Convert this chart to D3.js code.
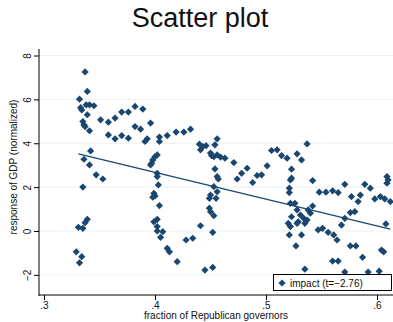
<!DOCTYPE html>
<html>
<head>
<meta charset="utf-8">
<script src="https://cdn.jsdelivr.net/npm/d3@7"></script>
<style>
  body { margin: 0; background: #fff; }
  svg { display: block; font-family: "Liberation Sans", Arial, sans-serif; }
</style>
</head>
<body>
<svg id="chart" width="393" height="322"></svg>
<script>
// fraction of Republican governors
const repShare = [
  .337, .339, .332, .333, .334, .338, .341, .345, .339, .335, .336, .337, .341, .351, .358, .364,
  .370, .376, .382, .389, .358, .364, .370, .376, .382, .387, .396, .391, .393, .404, .404, .411,
  .342, .336, .341, .396, .398, .400, .402, .347, .353, .335, .339, .337, .331, .335, .329, .334,
  .332, .397, .402, .402, .403, .399, .400, .398, .404, .402, .399, .402, .402, .407, .405, .411,
  .413, .419, .426, .432, .440, .443, .446, .441, .456, .454, .450, .451, .453, .456, .459, .463,
  .471, .454, .456, .457, .474, .478, .483, .453, .456, .450, .449, .455, .449, .450, .453, .441,
  .452, .428, .434, .420, .445, .452, .488, .492, .496, .501, .505, .510, .514, .519, .528, .532,
  .537, .523, .522, .523, .521, .521, .522, .526, .542, .542, .548, .554, .560, .565, .571, .577,
  .583, .585, .589, .594, .598, .603, .607, .612, .609, .609, .610, .528, .523, .531, .534, .537,
  .540, .538, .520, .522, .528, .529, .535, .521, .532, .527, .547, .551, .556, .561, .564, .568,
  .571, .576, .580, .576, .581, .587, .560, .565, .604, .606, .608, .535, .571, .592, .602
];
// response of GDP (normalized)
const gdpResp = [
  7.25, 6.36, 6.01, 5.62, 5.52, 5.75, 5.75, 5.71, 5.30, 4.99, 4.84, 4.76, 4.57, 5.07, 4.96, 5.15,
  5.42, 5.42, 5.68, 5.56, 4.38, 4.20, 4.35, 4.23, 4.76, 4.64, 4.92, 4.08, 4.20, 4.28, 4.08, 4.35,
  3.65, 3.27, 3.01, 3.01, 3.24, 3.39, 3.47, 2.56, 2.37, 2.00, 0.53, 0.38, 0.17, 0.12, -0.95, -1.17,
  -1.45, 3.09, 2.63, 2.48, 2.10, 1.72, 1.60, 1.54, 1.16, 0.53, 0.42, 0.20, 0.00, -0.03, -0.29, -0.79,
  -0.95, 4.51, 4.51, 4.64, 3.96, 3.85, 3.89, 3.70, 4.20, 3.93, 3.55, 3.44, 3.39, 3.47, 3.37, 3.32,
  3.12, 2.83, 2.48, 2.37, 2.37, 2.63, 2.86, 2.02, 1.79, 1.64, 1.49, 1.49, 1.04, 0.88, 0.70, 0.24,
  -0.06, -0.41, -0.33, -1.40, -1.78, -1.66, 2.21, 2.53, 2.56, 2.97, 3.67, 3.70, 3.44, 3.32, 3.52, 3.24,
  3.97, 2.82, 2.33, 2.41, 1.95, 1.75, 1.26, 1.26, 2.30, 1.14, 1.77, 1.77, 1.83, 1.75, 2.13, 1.57,
  1.34, 1.64, 2.13, 1.95, 1.46, 1.57, 1.46, 1.34, 2.48, 2.18, 2.33, 0.96, 0.65, 0.73, 0.58, 0.50,
  0.81, 0.96, 0.35, 0.20, 0.35, 0.42, 0.35, -0.18, -0.18, -0.68, 0.05, 0.12, -0.06, -0.18, -0.41, 0.27,
  0.58, 0.84, 0.88, -0.68, -0.68, -1.20, -1.37, -1.37, -0.87, -0.95, 0.32, -1.74, -1.87, -1.87, -1.83
];
// fitted line end points
const fitX = [0.331, 0.612];
const fitY = [3.52, 0.09];

const xTicks = [0.3, 0.4, 0.5, 0.6];
const yTicks = [-2, 0, 2, 4, 6, 8];
const legendLabel = 'impact (t=\u22122.76)';

const navy = '#1a476f';
const svg = d3.select('#chart');

const x = d3.scaleLinear().domain([0.3, 0.6]).range([44, 377]);
const y = d3.scaleLinear().domain([0, 8]).range([231, 55.5]);

const plotLeft = 39, plotRight = 393, plotTop = 49, plotBottom = 295;

// title
svg.append('text')
  .attr('x', 200).attr('y', 27)
  .attr('text-anchor', 'middle')
  .attr('font-size', 27)
  .attr('fill', '#111')
  .text('Scatter plot');

// gridlines
svg.append('g')
  .selectAll('line')
  .data(yTicks)
  .join('line')
  .attr('x1', plotLeft).attr('x2', plotRight)
  .attr('y1', d => y(d)).attr('y2', d => y(d))
  .attr('stroke', '#eaf2f3')
  .attr('stroke-width', 1);

// points
const diamond = d3.symbol(d3.symbolSquare, 26);
svg.append('g')
  .selectAll('path')
  .data(repShare.map((v, i) => [v, gdpResp[i]]))
  .join('path')
  .attr('d', diamond)
  .attr('transform', d => `translate(${x(d[0])},${y(d[1])}) rotate(45)`)
  .attr('fill', navy);

// fit line
const line = d3.line()
  .x(d => x(d[0]))
  .y(d => y(d[1]));
svg.append('path')
  .datum(fitX.map((v, i) => [v, fitY[i]]))
  .attr('fill', 'none')
  .attr('stroke', navy)
  .attr('stroke-width', 1.3)
  .attr('d', line);

// axes
const axisY = d3.axisLeft(y).tickValues(yTicks).tickSize(5)
  .tickFormat(d => d < 0 ? '\u2212' + Math.abs(d) : d);
const gy = svg.append('g')
  .attr('transform', `translate(${plotLeft},0)`)
  .call(axisY);
gy.select('.domain').remove();
gy.selectAll('.tick text')
  .attr('transform', 'rotate(-90)')
  .attr('x', 0).attr('y', -8)
  .attr('dy', 0)
  .attr('text-anchor', 'middle')
  .attr('font-size', 10)
  .attr('font-family', '"Liberation Sans", Arial, sans-serif')
  .attr('fill', '#111');

const axisX = d3.axisBottom(x).tickValues(xTicks).tickSize(5)
  .tickFormat(d => d3.format('.1f')(d).replace(/^0/, ''));
const gx = svg.append('g')
  .attr('transform', `translate(0,${plotBottom})`)
  .call(axisX);
gx.select('.domain').remove();
gx.selectAll('.tick text')
  .attr('y', 7)
  .attr('font-size', 10)
  .attr('font-family', '"Liberation Sans", Arial, sans-serif')
  .attr('fill', '#111');

svg.append('line')
  .attr('x1', plotLeft).attr('x2', plotLeft)
  .attr('y1', plotTop).attr('y2', plotBottom + 1)
  .attr('stroke', '#000');
svg.append('line')
  .attr('x1', plotLeft).attr('x2', plotRight)
  .attr('y1', plotBottom).attr('y2', plotBottom)
  .attr('stroke', '#000');

// axis titles
svg.append('text')
  .attr('transform', 'translate(17,167) rotate(-90)')
  .attr('text-anchor', 'middle')
  .attr('font-size', 10)
  .attr('fill', '#111')
  .text('response of GDP (normalized)');
svg.append('text')
  .attr('x', 216).attr('y', 319)
  .attr('text-anchor', 'middle')
  .attr('font-size', 10)
  .attr('fill', '#111')
  .text('fraction of Republican governors');

// legend
const lg = svg.append('g');
lg.append('rect')
  .attr('x', 273.5).attr('y', 274.5)
  .attr('width', 118).attr('height', 16)
  .attr('fill', '#fff')
  .attr('stroke', '#000');
lg.append('path')
  .attr('d', diamond)
  .attr('transform', 'translate(282,283) rotate(45)')
  .attr('fill', navy);
lg.append('text')
  .attr('x', 290).attr('y', 286.5)
  .attr('font-size', 10)
  .attr('fill', '#111')
  .text(legendLabel);
</script>
</body>
</html>
